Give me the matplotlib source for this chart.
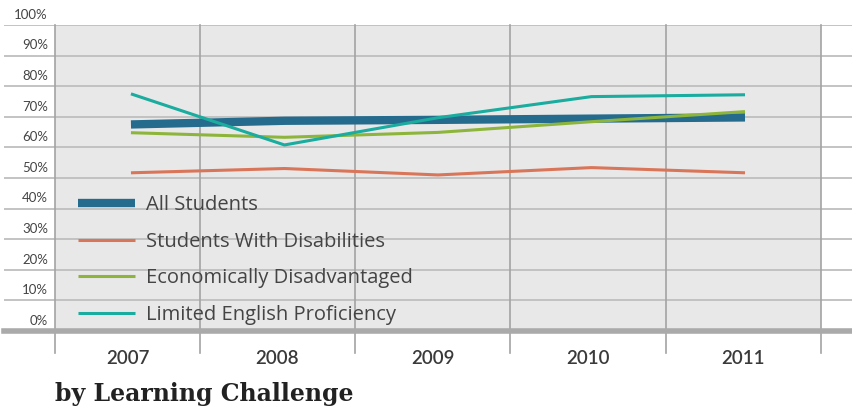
import matplotlib
matplotlib.use("Agg")
import matplotlib.pyplot as plt
from matplotlib.lines import Line2D

years = ["2007", "2008", "2009", "2010", "2011"]
series_names = ["All Students", "Students With Disabilities",
                "Economically Disadvantaged", "Limited English Proficiency"]
all_students = [67.5, 68.7, 69.0, 69.4, 69.8]
disabilities = [51.7, 53.1, 51.0, 53.4, 51.7]
econ_disadv = [64.8, 63.3, 64.9, 68.4, 71.7]
limited_english = [77.5, 60.8, 69.7, 76.6, 77.2]
y_ticks = [0, 10, 20, 30, 40, 50, 60, 70, 80, 90, 100]
y_tick_labels = [f"{v}%" for v in y_ticks]
title = "by Learning Challenge"

colors = ["#246B8D", "#D9765A", "#8DB53C", "#1AAC9E"]
widths = [6.0, 2.2, 2.2, 2.2]
values = [all_students, disabilities, econ_disadv, limited_english]

W, H = 852, 409
fig = plt.figure(figsize=(W / 100, H / 100), dpi=100)
fig.patch.set_facecolor("white")
ax = fig.add_axes([4 / W, (H - 331) / H, 848 / W, (331 - 25) / H])
ax.set_facecolor("none")
x = list(range(len(years)))
ax.set_xlim(-0.827, 4.697)
ax.set_ylim(0, 100)
for s in ax.spines.values():
    s.set_visible(False)
ax.set_xticks([])
ax.set_yticks([])

# plot area background
bounds = [-0.495, 0.4495, 1.459, 2.469, 3.485, 4.495]
ax.axvspan(bounds[0], bounds[-1], color="#E8E8E8", zorder=0, lw=0)

# horizontal gridlines
for v in y_ticks[1:]:
    ax.axhline(v, color="#BEBEBE", lw=1.3, zorder=1)
ax.axhline(0, color="#AAAAAA", lw=4.0, zorder=1.5, clip_on=False)

# vertical gridlines extending below axis
for b in bounds:
    ax.plot([b, b], [100, -7.2], color="#A3A3A3", lw=1.2, zorder=1.2, clip_on=False)

# y labels
font = "Lato"
for v, lab in zip(y_ticks, y_tick_labels):
    ax.annotate(lab, xy=(-0.541, v), xytext=(0, 3), textcoords="offset points",
                ha="right", va="bottom", fontsize=9.5, color="#444444", family=font)

# year labels
for i, yr in enumerate(years):
    cx = (bounds[i] + bounds[i + 1]) / 2
    ax.annotate(yr, xy=(cx, 0), xytext=(0, -14), textcoords="offset points",
                ha="center", va="top", fontsize=13.5, color="#3A3A3A",
                family=font, fontweight="semibold")

# data lines
for name, vals, c, w in zip(series_names, values, colors, widths):
    ax.plot(x, vals, color=c, lw=w, zorder=3, label=name, solid_capstyle="butt")

handles = [Line2D([0], [0], color=c, lw=w, solid_capstyle="butt")
           for c, w in zip(colors, widths)]
leg = ax.legend(handles, series_names, loc="upper left",
                bbox_to_anchor=((78 - 4) / 848 - 0.009, (331 - 187) / 306),
                frameon=False, handlelength=2.8, handletextpad=0.55,
                labelspacing=0.83, borderaxespad=0,
                prop={"family": "Open Sans", "size": 14.5})
for t in leg.get_texts():
    t.set_color("#444444")
leg.set_zorder(4)

fig.text(55 / W, 1 - 401 / H, title, ha="left", va="baseline",
         fontsize=17, fontweight="bold", family="DejaVu Serif", color="#222222")

fig.savefig("out.png", dpi=100)
